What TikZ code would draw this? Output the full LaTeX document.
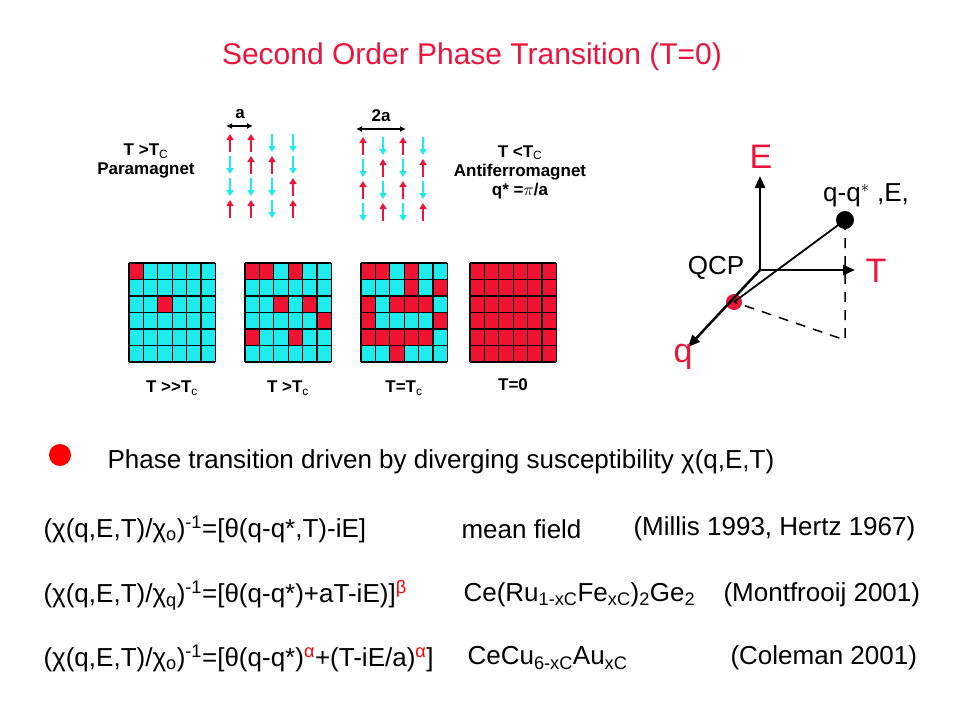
\documentclass[tikz,border=0pt]{standalone}
\usepackage{amsmath}
\usepackage{fontspec}
\setmainfont{Liberation Sans}
\usetikzlibrary{arrows.meta}
\definecolor{spinred}{RGB}{235,20,60}
\definecolor{spincyan}{RGB}{30,235,235}
\definecolor{cellred}{RGB}{240,20,50}
\tikzset{
  up/.style={-{Triangle[length=6pt,width=7pt]}, spinred, line width=2pt},
  down/.style={-{Triangle[length=6pt,width=7pt]}, spincyan, line width=2pt},
  lbl/.style={font=\fontsize{17}{19}\selectfont\bfseries, align=center},
  big/.style={font=\fontsize{26}{30}\selectfont},
  axlbl/.style={font=\fontsize{34}{36}\selectfont, spinred},
  axis/.style={-{Triangle[length=12pt,width=10pt]}, line width=2.5pt},
}
\newcommand{\spin}[3]{% x, y, u/d
  \if#3u\draw[up] (#1,#2+9) -- (#1,#2-9);\else\draw[down] (#1,#2-9) -- (#1,#2+9);\fi}
\newcommand{\grid}[2]{% x0, pattern
  \foreach \row [count=\r from 0] in {#2} {
    \foreach \c [count=\k from 0] in \row {
      \ifnum\c=1 \def\fc{cellred}\else\def\fc{spincyan}\fi
      \fill[\fc] (#1+\k*14.4,263+\r*16.5) rectangle ++(14.4,16.5);
    }
  }
  \foreach \k in {0,...,6} \draw[line width=1.2pt] (#1+\k*14.4,263) -- (#1+\k*14.4,362);
  \foreach \r in {0,...,6} \draw[line width=1.2pt] (#1,263+\r*16.5) -- (#1+86.4,263+\r*16.5);
}
\begin{document}
\begin{tikzpicture}[x=1pt,y=-1pt]
  \useasboundingbox (0,0) rectangle (960,720);
  % titel
  \node[spinred, font=\fontsize{30}{34}\selectfont] (title) at (472,57) {Second Order Phase Transition (T=0)};
  % spins
  \node[lbl] (para) at (146,161) {T >T$_\mathrm{C}$\\Paramagnet};
  \node[lbl] (anti) at (520,172) {T <T$_\mathrm{C}$\\Antiferromagnet\\q* =$\pi$/a};
  \foreach \pat [count=\r from 0] in {{u,u,d,d},{d,u,u,d},{d,d,d,u},{u,u,d,u}}
    \foreach \s [count=\k from 0] in \pat { \spin{230+\k*21}{143+\r*22}{\s} }
  \foreach \pat [count=\r from 0] in {{u,d,u,d},{d,u,d,u},{u,d,u,d},{d,u,d,u}}
    \foreach \s [count=\k from 0] in \pat { \spin{363+\k*20}{146+\r*22}{\s} }
  \draw[{Latex[length=6pt,width=6pt]}-{Latex[length=6pt,width=6pt]}, line width=1.5pt] (226,126) -- (253,126);
  \node[lbl] (a) at (240,114) {a};
  \draw[{Latex[length=6pt,width=6pt]}-{Latex[length=6pt,width=6pt]}, line width=1.5pt] (356,129) -- (406,129);
  \node[lbl] (twoa) at (381,116) {2a};
  % gitter
  \grid{129}{{1,0,0,0,0,0},{0,0,0,0,0,0},{0,0,1,0,0,0},{0,0,0,0,0,0},{0,0,0,0,0,0},{0,0,0,0,0,0}}
  \grid{245}{{1,1,0,1,0,0},{0,0,0,0,0,0},{0,0,1,0,1,0},{0,0,0,0,0,1},{1,0,0,1,0,0},{0,0,0,0,0,0}}
  \grid{361}{{1,1,0,1,0,0},{0,0,0,1,0,1},{1,0,1,1,1,0},{1,0,0,0,0,1},{1,1,1,1,1,0},{0,0,1,0,0,0}}
  \grid{470}{{1,1,1,1,1,1},{1,1,1,1,1,1},{1,1,1,1,1,1},{1,1,1,1,1,1},{1,1,1,1,1,1},{1,1,1,1,1,1}}
  \node[lbl] (g1) at (172,388) {T >{}>T$_\mathrm{c}$};
  \node[lbl] (g2) at (288,388) {T >T$_\mathrm{c}$};
  \node[lbl] (g3) at (404,388) {T=T$_\mathrm{c}$};
  \node[lbl] (g4) at (513,385) {T=0};
  % achsen
  \coordinate (O) at (760,270);
  \coordinate (P) at (845,220);
  \coordinate (F) at (845,340);
  \fill[spinred] (734,302) circle (8);
  \coordinate (Q) at (734,302);
  \draw[axis] (O) -- (760,176);
  \draw[axis] (O) -- (855,270);
  \draw[axis] (O) -- (688,347);
  \draw[line width=1.8pt] (Q) -- (P);
  \draw[dashed, dash pattern=on 10pt off 8pt, line width=1.5pt] (P) -- (F) -- (Q);
  \fill (P) circle (9);
  \node[axlbl] (E) at (761,157) {E};
  \node[axlbl] (T) at (876,271) {T};
  \node[axlbl] (q) at (683,357) {q};
  \node[big] (qcp) at (716,268) {QCP};
  \node[big] (pt) at (866,195) {q-q$^{*}$ ,E,};
  % text
  \fill[red] (60,455) circle (11);
  \node[big, anchor=west] (l0) at (104,462) {Phase transition driven by diverging susceptibility χ(q,E,T)};
  \node[big, anchor=west] (l1) at (40,529) {(χ(q,E,T)/χ$_\mathrm{o}$)$^{\text{-1}}$=[θ(q-q*,T)-iE]};
  \node[big, anchor=west] (l1b) at (458,529) {mean field};
  \node[big, anchor=west] (l1c) at (630,529) {(Millis 1993, Hertz 1967)};
  \node[big, anchor=west] (l2) at (40,595) {(χ(q,E,T)/χ$_\mathrm{q}$)$^{\text{-1}}$=[θ(q-q*)+aT-iE)]$^{\textcolor{red}{\text{β}}}$};
  \node[big, anchor=west] (l2b) at (460,595) {Ce(Ru$_{\text{1-xC}}$Fe$_{\text{xC}}$)$_{\text{2}}$Ge$_{\text{2}}$};
  \node[big, anchor=west] (l2c) at (720,595) {(Montfrooij 2001)};
  \node[big, anchor=west] (l3) at (40,658) {(χ(q,E,T)/χ$_\mathrm{o}$)$^{\text{-1}}$=[θ(q-q*)$^{\textcolor{red}{\text{α}}}$+(T-iE/a)$^{\textcolor{red}{\text{α}}}$]};
  \node[big, anchor=west] (l3b) at (464,658) {CeCu$_{\text{6-xC}}$Au$_{\text{xC}}$};
  \node[big, anchor=west] (l3c) at (727,658) {(Coleman 2001)};
\end{tikzpicture}
\end{document}
